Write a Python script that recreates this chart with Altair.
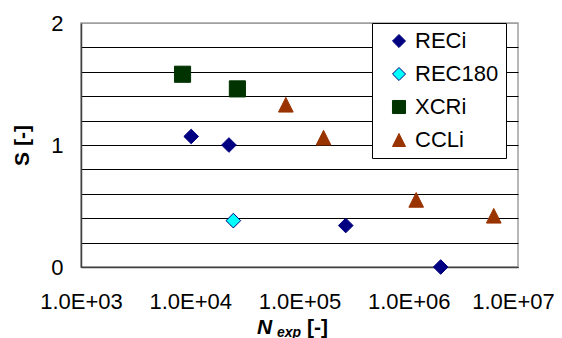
import altair as alt
import pandas as pd

# ---- data ----
series_names = ["RECi", "REC180", "XCRi", "CCLi"]

reci_n = [1.02e4, 2.26e4, 2.65e5, 1.96e6]
reci_s = [1.07, 1.00, 0.34, 0.00]

rec180_n = [2.48e4]
rec180_s = [0.38]

xcri_n = [8.5e3, 2.70e4]
xcri_s = [1.58, 1.46]

ccli_n = [7.5e4, 1.66e5, 1.17e6, 6.0e6]
ccli_s = [1.33, 1.06, 0.55, 0.42]

x_ticks = [1e3, 1e4, 1e5, 1e6, 1e7]
y_grid = [0, 0.2, 0.4, 0.6, 0.8, 1, 1.2, 1.4, 1.6, 1.8, 2]

fills = ["#000080", "#00FFFF", "#003300", "#993300"]
strokes = ["#000080", "#000080", "#003300", "#993300"]
tri = "M0,-1L1,1L-1,1Z"
shapes = ["diamond", "diamond", "square", tri]

rows = []
for name, xs, ys in [("RECi", reci_n, reci_s), ("REC180", rec180_n, rec180_s),
                     ("XCRi", xcri_n, xcri_s), ("CCLi", ccli_n, ccli_s)]:
    for a, b in zip(xs, ys):
        rows.append({"series": name, "N": a, "S": b})
df = pd.DataFrame(rows)

FONT = "Liberation Sans"

legend = alt.Legend(title=None, orient="none", legendX=291, legendY=0,
                    fillColor="white", strokeColor="black", padding=7,
                    labelFontSize=22, labelFont=FONT, labelColor="black",
                    symbolSize=170, symbolOffset=9, labelOffset=5,
                    rowPadding=11, symbolStrokeWidth=1,
                    labelExpr="datum.label + '\\u00a0\\u00a0'")

points = alt.Chart(df).mark_point(filled=True, opacity=1, strokeWidth=1).encode(
    x=alt.X("N:Q", scale=alt.Scale(type="log", domain=[1e3, 1e7]),
            axis=alt.Axis(values=x_ticks, ticks=False, grid=False, title=None,
                          labelExpr="'1.0E+0' + round(log(datum.value) / LN10)",
                          labelFontSize=22, labelFont=FONT, labelColor="black",
                          labelPadding=24, domainColor="#404040", domainWidth=1.5,
                          labelOffset=alt.condition("datum.value > 5000000", alt.value(-5), alt.value(0)),
                          labelOverlap=False, labelFlush=False)),
    y=alt.Y("S:Q", scale=alt.Scale(domain=[0, 2]),
            axis=alt.Axis(values=y_grid, ticks=False, grid=True,
                          gridColor=alt.condition("datum.value == 2", alt.value("#a0a0a0"), alt.value("black")),
                          gridWidth=1,
                          labelExpr="(datum.value == 0 || datum.value == 1 || datum.value == 2) ? format(datum.value, 'd') : ''",
                          labelFontSize=22, labelFont=FONT, labelColor="black",
                          labelPadding=18, labelOverlap=False, labelFlush=False,
                          domainColor="#404040", domainWidth=1.5,
                          title="S [-]", titleFont=FONT, titleFontSize=21, titleFontWeight="bold",
                          titleColor="black", titleAngle=270, titleX=-59, titleY=122,
                          titleAlign="center", titleBaseline="middle")),
    fill=alt.Fill("series:N", scale=alt.Scale(domain=series_names, range=fills), legend=legend),
    stroke=alt.Stroke("series:N", scale=alt.Scale(domain=series_names, range=strokes), legend=legend),
    shape=alt.Shape("series:N", scale=alt.Scale(domain=series_names, range=shapes), legend=legend),
    size=alt.condition("datum.series == 'XCRi'", alt.value(260), alt.value(215)),
)

def label(txt, x, y, size, style):
    return alt.Chart(pd.DataFrame({"t": [txt]})).mark_text(
        align="left", baseline="alphabetic", font=FONT, fontSize=size,
        fontWeight="bold", fontStyle=style, color="black"
    ).encode(text="t:N", x=alt.value(x), y=alt.value(y))

title_n = label("N", 176, 311, 21, "italic")
title_exp = label("exp", 196, 314, 14, "italic")
title_unit = label("[-]", 226, 311, 21, "normal")

chart = alt.layer(points, title_n, title_exp, title_unit).properties(
    width=437, height=244,
    autosize="none",
    padding={"left": 73, "top": 15, "right": 36, "bottom": 75},
).configure_view(stroke="#a0a0a0", strokeWidth=1.5)

chart.save("out.html", embed_options={"renderer": "svg", "actions": False})
